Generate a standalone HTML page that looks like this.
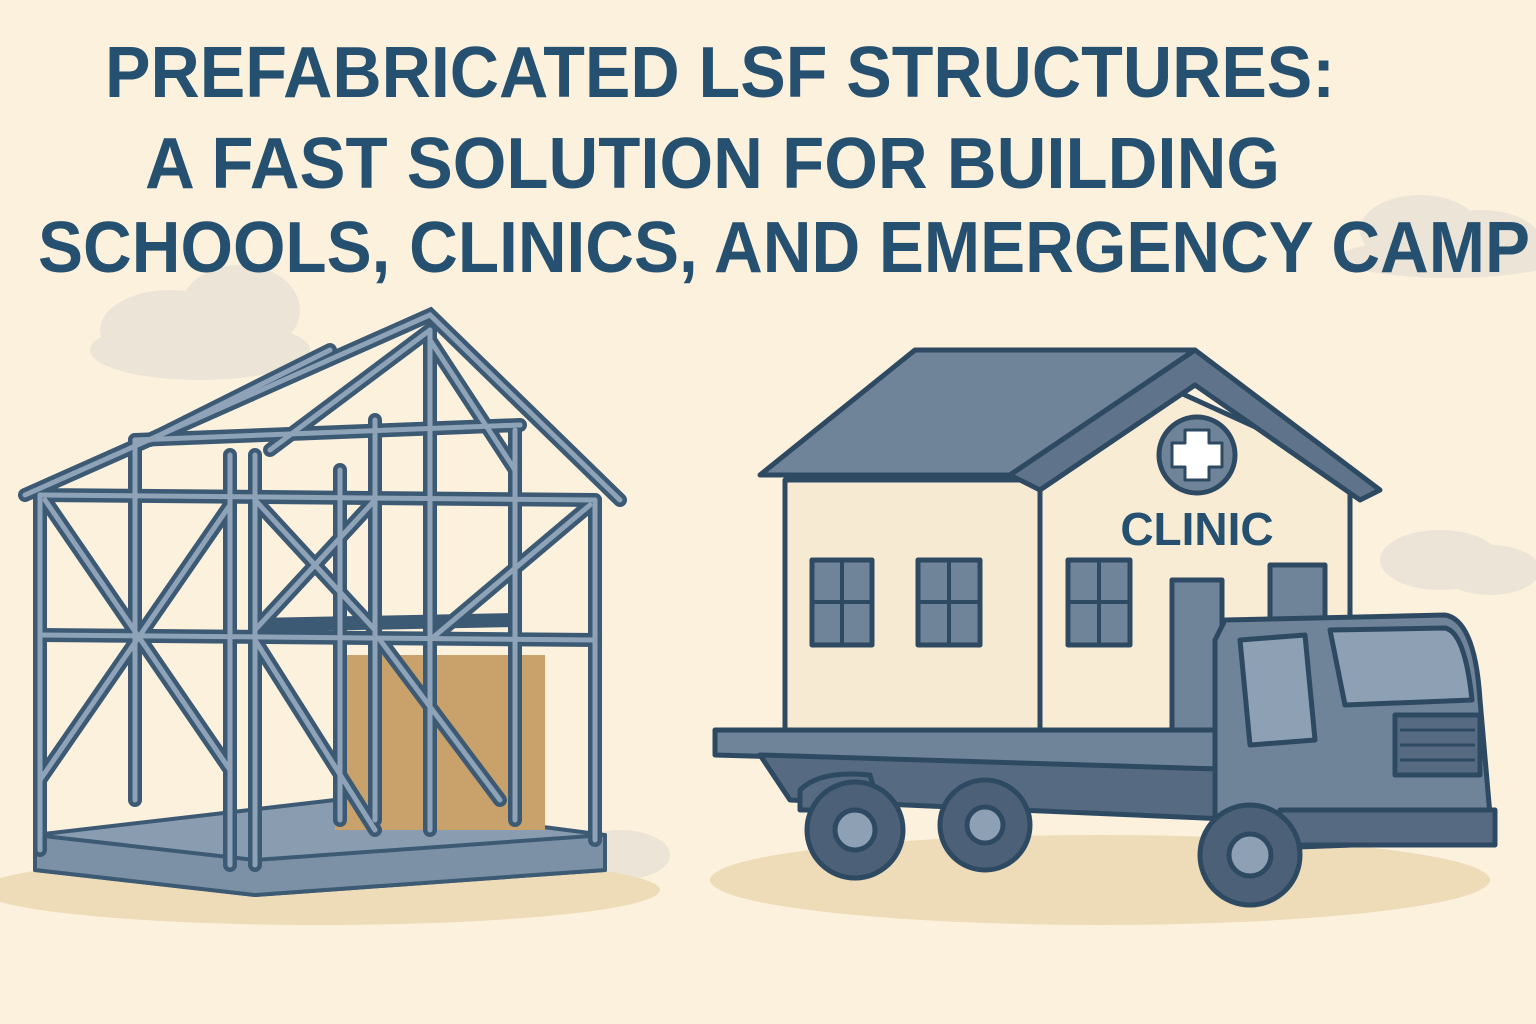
<!DOCTYPE html>
<html><head><meta charset="utf-8"><style>
html,body{margin:0;padding:0;background:#fcf1dd;}
svg{display:block}
</style></head><body>
<svg width="1536" height="1024" viewBox="0 0 1536 1024" xmlns="http://www.w3.org/2000/svg">
<rect width="1536" height="1024" fill="#fcf1dd"/>
<g fill="#ece4d6">
<ellipse cx="170" cy="330" rx="70" ry="40"/><ellipse cx="240" cy="310" rx="60" ry="45"/><ellipse cx="200" cy="350" rx="110" ry="30"/>
<ellipse cx="1420" cy="230" rx="60" ry="35"/><ellipse cx="1480" cy="240" rx="60" ry="30"/><ellipse cx="1450" cy="258" rx="110" ry="20"/>
<ellipse cx="1440" cy="560" rx="60" ry="30"/><ellipse cx="1490" cy="570" rx="50" ry="25"/>
<ellipse cx="620" cy="855" rx="50" ry="25"/>
</g>
<ellipse cx="320" cy="890" rx="340" ry="35" fill="#eedcb8"/>
<ellipse cx="1100" cy="880" rx="390" ry="45" fill="#eedcb8"/>
<g font-family="'Liberation Sans Narrow','Liberation Sans',sans-serif" font-weight="bold" fill="#25506f" font-size="72">
<text x="105" y="97" textLength="1230" lengthAdjust="spacingAndGlyphs">PREFABRICATED LSF STRUCTURES:</text>
<text x="145" y="188" textLength="1135" lengthAdjust="spacingAndGlyphs">A FAST SOLUTION FOR BUILDING</text>
<text x="38" y="272" textLength="1492" lengthAdjust="spacingAndGlyphs">SCHOOLS, CLINICS, AND EMERGENCY CAMP</text>
</g>
<g stroke="#3d5a75" stroke-width="4" fill="#8a9db0" stroke-linejoin="round">
<polygon points="35,835 335,800 605,835 605,870 255,895 35,870"/>
<polygon points="35,835 255,860 605,835 605,870 255,895 35,870" fill="#7d91a6"/>
<rect x="335" y="655" width="210" height="175" fill="#c9a26b" stroke="none"/>
</g>
<g stroke="#3d5a75" stroke-width="14" stroke-linecap="round" fill="none">
<path d="M40,495 L40,850 M230,455 L230,865 M255,455 L255,865 M595,500 L595,840 M135,440 L135,800 M375,420 L375,820 M515,430 L515,820 M430,330 L430,830 M340,470 L340,820"/>
<path d="M25,495 L430,315 L620,500 M40,495 L595,500 M135,440 L520,425"/>
<path d="M40,635 L595,640 M255,625 L515,620"/>
<path d="M45,500 L230,770 M40,780 L230,505 M255,500 L375,630 M375,500 L255,630 M255,640 L375,830 M380,640 L500,800 M430,640 L590,505 M430,340 L515,470 M270,450 L430,330 M150,440 L330,350"/>
</g>
<g stroke="#8ea3b7" stroke-width="5" stroke-linecap="round" fill="none">
<path d="M40,495 L40,850 M230,455 L230,865 M255,455 L255,865 M595,500 L595,840 M135,440 L135,800 M375,420 L375,820 M515,430 L515,820 M430,330 L430,830 M340,470 L340,820"/>
<path d="M25,495 L430,315 L620,500 M40,495 L595,500 M135,440 L520,425 M40,635 L595,640"/>
<path d="M45,500 L230,770 M40,780 L230,505 M255,500 L375,630 M375,500 L255,630 M255,640 L375,830 M380,640 L500,800 M430,640 L590,505 M430,340 L515,470 M270,450 L430,330 M150,440 L330,350"/>
</g>
<g stroke="#2e4a63" stroke-width="5" stroke-linejoin="round">
<rect x="785" y="480" width="565" height="260" fill="#f6ead2"/>
<polygon points="1130,370 1350,470 1350,740 1040,740 1040,470" fill="#f8ecd5"/>
<polygon points="760,475 915,350 1195,350 1010,475" fill="#6f8399"/>
<polygon points="1010,475 1195,350 1380,490 1360,500 1195,385 1040,490" fill="#5f748a"/>
<circle cx="1197" cy="455" r="38" fill="#6f8399"/>
<path d="M1185,430h24v13h13v24h-13v13h-24v-13h-13v-24h13z" fill="#fff" stroke-width="3"/>
<g fill="#6f8399">
<rect x="812" y="560" width="60" height="85"/><rect x="918" y="560" width="62" height="85"/><rect x="1068" y="560" width="62" height="85"/><rect x="1270" y="565" width="55" height="55"/>
<rect x="1172" y="580" width="50" height="155"/>
</g>
<path d="M842,560v85M812,602h60M949,560v85M918,602h62M1099,560v85M1068,602h62" fill="none" stroke-width="4"/>
</g>
<text x="1197" y="545" font-family="'Liberation Sans Narrow','Liberation Sans',sans-serif" font-weight="bold" font-size="46" fill="#25506f" text-anchor="middle">CLINIC</text>
<g stroke="#2e4a63" stroke-width="5" stroke-linejoin="round">
<polygon points="715,730 1250,730 1250,770 715,755" fill="#6f8399"/>
<polygon points="760,755 1250,770 1250,820 790,800" fill="#566b81"/>
<path d="M800,790 Q820,770 870,775 L880,810 L800,810z" fill="#566b81"/>
<path d="M1215,640 L1225,620 L1445,615 Q1475,620 1480,700 L1490,815 L1490,840 L1215,850z" fill="#6f8399"/>
<path d="M1240,640 L1305,635 L1315,740 L1250,745z" fill="#8ea0b3"/>
<path d="M1330,630 L1445,628 Q1465,632 1472,700 L1345,705z" fill="#8ea0b3"/>
<rect x="1395" y="715" width="85" height="60" fill="#566b81"/>
<path d="M1400,730h75M1400,745h75M1400,760h75" stroke-width="3"/>
<rect x="1280" y="810" width="215" height="35" fill="#566b81"/>
<circle cx="855" cy="830" r="48" fill="#4c6077"/><circle cx="855" cy="830" r="20" fill="#8ea0b3"/>
<circle cx="985" cy="825" r="45" fill="#4c6077"/><circle cx="985" cy="825" r="18" fill="#8ea0b3"/>
<circle cx="1250" cy="855" r="50" fill="#4c6077"/><circle cx="1250" cy="855" r="21" fill="#8ea0b3"/>
</g>
</svg>
</body></html>
